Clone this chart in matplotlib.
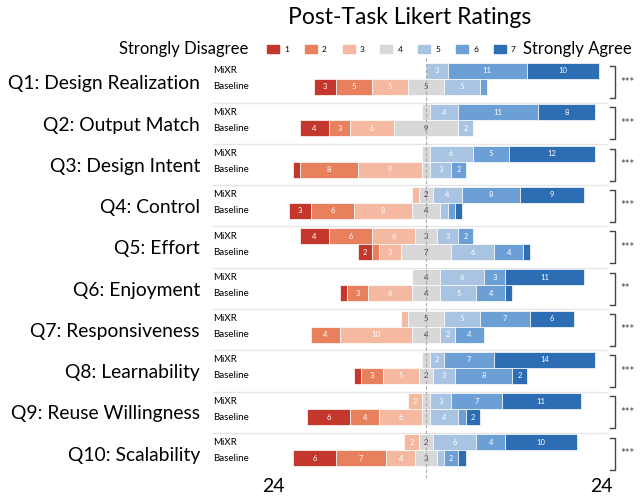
import numpy as np
import matplotlib
matplotlib.use('Agg')
import matplotlib.pyplot as plt
from matplotlib.patches import Rectangle

plt.rcParams['font.family'] = ['Lato', 'DejaVu Sans']

# Likert counts per question, levels 1..7 (24 participants)
questions = ['Q1: Design Realization', 'Q2: Output Match', 'Q3: Design Intent',
             'Q4: Control', 'Q5: Effort', 'Q6: Enjoyment', 'Q7: Responsiveness',
             'Q8: Learnability', 'Q9: Reuse Willingness', 'Q10: Scalability']
mixr = [[0, 0, 0, 0, 3, 11, 10],
        [0, 0, 0, 1, 4, 11, 8],
        [0, 0, 0, 1, 6, 5, 12],
        [0, 0, 1, 2, 4, 8, 9],
        [4, 6, 6, 3, 3, 2, 0],
        [0, 0, 0, 4, 6, 3, 11],
        [0, 0, 1, 5, 5, 7, 6],
        [0, 0, 0, 1, 2, 7, 14],
        [0, 0, 2, 1, 3, 7, 11],
        [0, 0, 2, 2, 6, 4, 10]]
baseline = [[3, 5, 5, 5, 5, 1, 0],
            [4, 3, 6, 9, 2, 0, 0],
            [1, 8, 9, 1, 3, 2, 0],
            [3, 6, 8, 4, 1, 1, 1],
            [2, 1, 3, 7, 6, 4, 1],
            [1, 3, 6, 4, 5, 4, 1],
            [0, 4, 10, 4, 2, 4, 0],
            [1, 3, 5, 2, 3, 8, 2],
            [6, 4, 6, 1, 4, 1, 2],
            [6, 7, 4, 3, 1, 2, 1]]
significance = ['***', '***', '***', '***', '***', '**', '***', '***', '***', '***']
levels = ['1', '2', '3', '4', '5', '6', '7']
colors = ['#c4372d', '#e8805d', '#f4b9a0', '#d8d8d8', '#a8c4e2', '#6b9fd5', '#2c6db3']

fig = plt.figure(figsize=(6.41, 5.0), dpi=100)
ax = fig.add_axes([205 / 641, 1 - 478 / 500, 405 / 641, 420 / 500])
step = 2.58


def draw_row(counts, y):
    left = -(sum(counts[:3]) + counts[3] / 2)
    for k, c in enumerate(counts):
        if c > 0:
            ax.barh(y, c, left=left, height=1.0, color=colors[k],
                    edgecolor='white', linewidth=0.5)
            if c >= 2:
                ax.text(left + c / 2, y, str(c), ha='center', va='center',
                        fontsize=5.5, color='#333333' if k == 3 else 'white')
        left += c


for i, q in enumerate(questions):
    y0 = i * step
    draw_row(mixr[i], y0)
    draw_row(baseline[i], y0 + 1)
    ax.text(-29.6, y0, 'MiXR', ha='left', va='center', fontsize=7)
    ax.text(-29.6, y0 + 1, 'Baseline', ha='left', va='center', fontsize=7)
    ax.text(-31.4, y0 + 0.8, q, ha='right', va='center', fontsize=13.9, clip_on=False)
    # bracket + significance
    ax.plot([25.6, 26.25, 26.25, 25.6], [y0 - 0.3, y0 - 0.3, y0 + 1.7, y0 + 1.7],
            color='#444444', lw=1, clip_on=False)
    ax.text(27.0, y0 + 0.7, significance[i], ha='left', va='center',
            fontsize=8, color='#444444', clip_on=False)
    if i < len(questions) - 1:
        ax.plot([-29.6, 25.0], [y0 + 1.98, y0 + 1.98], color='#e6e6e6', lw=1, zorder=0)

ax.axvline(0, color='#aaaaaa', lw=0.8, ls=(0, (3, 2)), zorder=3)

ax.set_xlim(-30.69, 25.56)
ax.set_ylim(25.44, -0.81)
ax.set_yticks([])
ax.set_xticks([-21.25, 24.4])
ax.set_xticklabels(['24', '24'], fontsize=14)
ax.tick_params(axis='x', length=0, pad=0)
for s in ax.spines.values():
    s.set_visible(False)

# title and legend
fig.text(410 / 641, 1 - 18 / 500, 'Post-Task Likert Ratings', ha='center', va='center', fontsize=16.5)
ly = 1 - 49 / 500
fig.text(248 / 641, ly, 'Strongly Disagree', ha='right', va='center', fontsize=12)
for k, lab in enumerate(levels):
    x = 267 + k * 37.8
    fig.patches.append(Rectangle((x / 641, ly - 4 / 500), 12 / 641, 8 / 500,
                                 transform=fig.transFigure, color=colors[k]))
    fig.text((x + 17) / 641, ly, lab, ha='left', va='center', fontsize=6)
fig.text(523 / 641, ly, 'Strongly Agree', ha='left', va='center', fontsize=12)

plt.savefig('out.png', dpi=100)
